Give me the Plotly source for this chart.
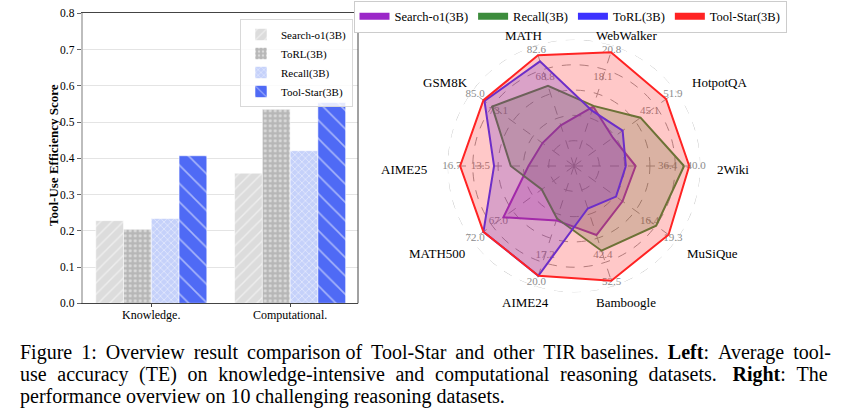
import plotly.graph_objects as go

# ---------------- left panel data ----------------
bar_groups = ["Knowledge.", "Computational."]
te_search_o1 = [0.228, 0.359]
te_torl = [0.204, 0.535]
te_recall = [0.234, 0.421]
te_tool_star = [0.407, 0.554]
y_tick_vals = [0.0, 0.1, 0.2, 0.3, 0.4, 0.5, 0.6, 0.7, 0.8]

# ---------------- right panel data ----------------
radar_axes = ["2Wiki", "HotpotQA", "WebWalker", "MATH", "GSM8K",
              "AIME25", "MATH500", "AIME24", "Bamboogle", "MuSiQue"]
axis_outer_labels = ["40.0", "51.9", "20.8", "82.6", "85.0",
                     "16.7", "72.0", "20.0", "52.5", "19.3"]
axis_inner_labels = ["36.4", "45.1", "18.1", "68.8", "73.1",
                     "13.5", "67.0", "17.2", "42.4", "16.4"]
# normalised scores (fraction of each axis' full scale)
radar_search_o1 = [0.487, 0.38, 0.493, 0.338, 0.308, 0.36, 0.69, 0.452, 0.574, 0.474]
radar_recall = [0.87, 0.65, 0.50, 0.666, 0.80, 0.50, 0.315, 0.436, 0.704, 0.803]
radar_torl = [0.41, 0.475, 0.46, 0.87, 0.875, 0.632, 0.885, 0.912, 0.353, 0.411]
radar_tool_star = [0.911, 0.90, 0.945, 0.92, 0.885, 0.90, 0.885, 0.912, 0.954, 0.924]

caption_raw = [
    "Figure 1: Overview result comparison of Tool-Star and other TIR baselines. "
    "<b>Left</b>: Average tool-",
    "use accuracy (TE) on knowledge-intensive and computational reasoning datasets. "
    "<b>Right</b>: The",
    "performance overview on 10 challenging reasoning datasets.",
]

TS = "\u2009"
HS = "\u200a"


def justify(text, extra, skip=()):
    words = text.split(" ")
    out = words[0]
    for i, w in enumerate(words[1:]):
        out += " " + ("" if i in skip else extra) + w
    return out


caption_lines = [
    justify(caption_raw[0], TS, skip=(4, 9)),
    justify(caption_raw[1], TS + HS).replace("datasets. ", "datasets.  "),
    caption_raw[2],
]

W, H = 850, 414
SERIF = "Liberation Serif"


def fx(px):
    return px / W


def fy(py):
    return 1 - py / H


fig = go.Figure()

# ---------------- bars ----------------
bar_specs = [
    ("Search-o1(3B)", te_search_o1, "#dcdcdc", "/", 8, 0.18),
    ("ToRL(3B)", te_torl, "#b7b7b7", ".", 5, 0.3),
    ("Recall(3B)", te_recall, "#c5d1fa", "x", 5, 0.3),
    ("Tool-Star(3B)", te_tool_star, "#4f6af5", "\\", 13, 0.12),
]
for name, vals, color, shape, size, sol in bar_specs:
    fig.add_trace(go.Bar(
        x=bar_groups, y=vals, name=name, legend="legend",
        xaxis="x", yaxis="y",
        marker=dict(color=color, line=dict(color="rgba(255,255,255,0.7)", width=0.8),
                    pattern=dict(shape=shape, fgcolor="white", size=size,
                                 solidity=sol, fillmode="overlay")),
    ))

# ---------------- radar ----------------
n = len(radar_axes)
theta = [i * 360.0 / n for i in range(n)]
theta_closed = theta + [theta[0]]

ring_theta = list(range(0, 361, 2))
fig.add_trace(go.Scatterpolar(r=[1.0] * len(ring_theta), theta=ring_theta, mode="lines",
                              line=dict(color="#c4c4c4", width=1, dash="dash"),
                              showlegend=False, hoverinfo="skip"))
fig.add_trace(go.Scatterpolar(r=[0.965] * n, theta=theta, mode="text", text=axis_outer_labels,
                              textfont=dict(family=SERIF, size=11, color="#8c8c8c"),
                              showlegend=False, hoverinfo="skip"))
fig.add_trace(go.Scatterpolar(r=[0.74] * n, theta=theta, mode="text", text=axis_inner_labels,
                              textfont=dict(family=SERIF, size=11, color="#8c8c8c"),
                              showlegend=False, hoverinfo="skip"))

radar_specs = [
    ("Search-o1(3B)", radar_search_o1, "#9b28c8", "rgba(155,40,200,0.25)"),
    ("Recall(3B)", radar_recall, "#3c8c3c", "rgba(60,140,60,0.25)"),
    ("ToRL(3B)", radar_torl, "#3c32ff", "rgba(60,50,255,0.25)"),
    ("Tool-Star(3B)", radar_tool_star, "#ff2323", "rgba(255,35,35,0.25)"),
]
for name, vals, color, fillc in radar_specs:
    fig.add_trace(go.Scatterpolar(
        r=vals + [vals[0]], theta=theta_closed, mode="lines", fill="toself",
        fillcolor=fillc, line=dict(color=color, width=2), name=name,
        showlegend=False,
    ))
for name, vals, color, fillc in radar_specs:
    fig.add_trace(go.Scatterpolar(
        r=[None], theta=[None], mode="lines", line=dict(color=color, width=7),
        name=name, legend="legend2", showlegend=True,
    ))

# ---------------- annotations ----------------
annotations = []
label_centres = [(732.7, 168), (720, 81.7), (626, 35), (523.3, 35), (445.3, 81.7),
                 (404.3, 168.3), (437.3, 252.7), (525, 301.7), (625.7, 301.7), (712.3, 252.7)]
for name, (cx, cy) in zip(radar_axes, label_centres):
    annotations.append(dict(text=name, xref="paper", yref="paper", x=fx(cx), y=fy(cy + 1),
                            xanchor="center", yanchor="middle", showarrow=False,
                            font=dict(family=SERIF, size=13, color="black")))
for i, line in enumerate(caption_lines):
    annotations.append(dict(
        text=line, xref="paper", yref="paper", x=fx(18), y=fy(352 + 22 * i),
        xanchor="left", yanchor="middle", showarrow=False,
        font=dict(family=SERIF, size=20, color="black"),
    ))
# y-axis title of the bar panel
annotations.append(dict(text="Tool-Use Efficiency Score", xref="paper", yref="paper",
                        x=fx(53), y=fy(155), xanchor="center", yanchor="middle",
                        textangle=-90, showarrow=False,
                        font=dict(family=SERIF, size=13, weight="bold", color="black")))

fig.update_layout(
    width=W, height=H,
    margin=dict(l=0, r=0, t=0, b=0, autoexpand=False),
    paper_bgcolor="white", plot_bgcolor="white",
    font=dict(family=SERIF, color="black"),
    barmode="group", bargap=0.2, bargroupgap=0.0,
    xaxis=dict(domain=[fx(82.7), fx(358)], range=[-0.494, 1.489], type="category",
               showline=True, linecolor="#444444", linewidth=1, mirror=True,
               ticks="outside", ticklen=3, tickcolor="#444444", ticklabelstandoff=-3,
               tickfont=dict(family=SERIF, size=12), showgrid=False, automargin=False),
    yaxis=dict(domain=[fy(303.3), fy(13.3)], range=[0, 0.8],
               tickvals=y_tick_vals, tickformat=".1f",
               showline=True, linecolor="#bdbdbd", linewidth=2,
               ticks="outside", ticklen=4, tickcolor="#666666",
               tickfont=dict(family=SERIF, size=11.5),
               gridcolor="#e4e4e4", gridwidth=1, zeroline=False, automargin=False),
    polar=dict(
        domain=dict(x=[fx(447.5), fx(700.5)], y=[fy(292.5), fy(39.5)]),
        bgcolor="rgba(0,0,0,0)",
        radialaxis=dict(range=[0, 1], tickvals=[0.2, 0.4, 0.6, 0.8], showticklabels=False,
                        ticks="", showline=False, gridcolor="#9a9a9a", griddash="dash",
                        gridwidth=1),
        angularaxis=dict(rotation=0, direction="counterclockwise", thetaunit="degrees",
                         tickvals=theta, showticklabels=False, ticks="",
                         showline=False, gridcolor="#9a9a9a", griddash="dash", gridwidth=1),
    ),
    legend=dict(x=fx(353), y=fy(19), xanchor="right", yanchor="top",
                bgcolor="rgba(255,255,255,0.85)", bordercolor="#d9d9d9", borderwidth=1,
                font=dict(family=SERIF, size=11), tracegroupgap=0, traceorder="normal"),
    legend2=dict(orientation="h", x=fx(570), y=fy(0.5), xanchor="center", yanchor="top",
                 bgcolor="white", bordercolor="#cccccc", borderwidth=1,
                 font=dict(family=SERIF, size=12.5)),
    annotations=annotations,
    shapes=[dict(type="line", xref="x domain", yref="y domain", x0=1, x1=1, y0=0, y1=1,
                 line=dict(color="#444444", width=1))],
)

fig.write_html("out.html", config={"displayModeBar": False},
               post_script="document.body.style.margin='0px';")
